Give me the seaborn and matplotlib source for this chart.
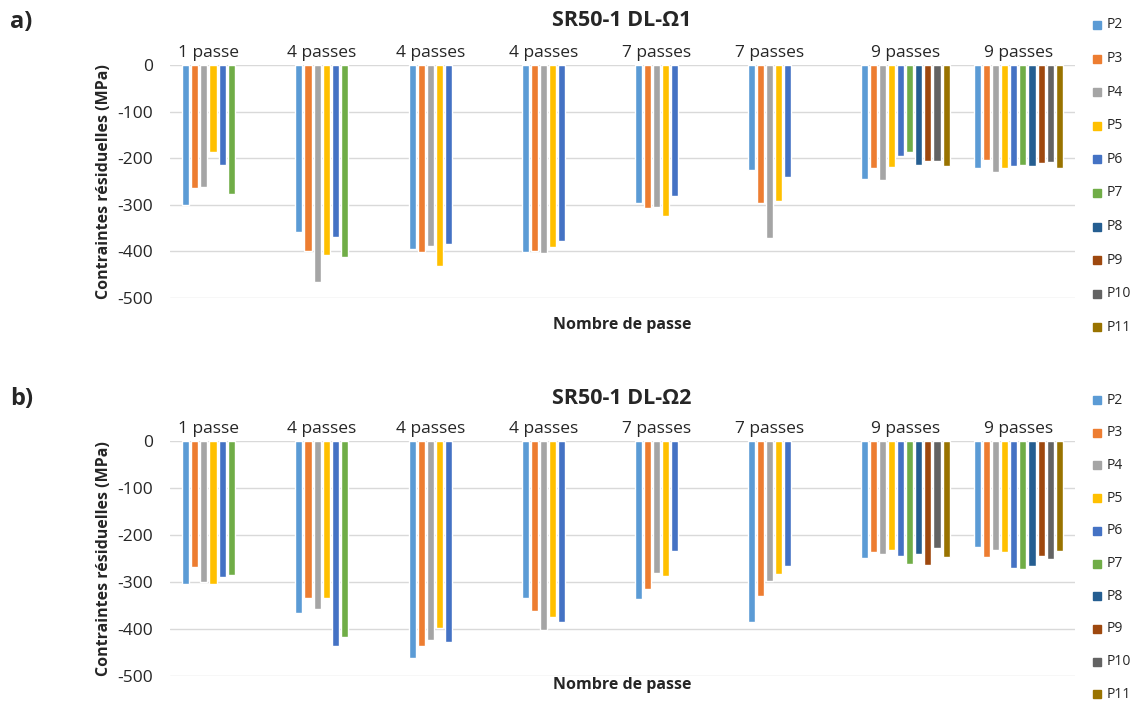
import numpy as np
import pandas as pd
import matplotlib
matplotlib.use('Agg')
import matplotlib.pyplot as plt
import seaborn as sns

# Category labels (8 specimens) and series names
groups = ['1 passe', '4 passes', '4 passes', '4 passes', '7 passes', '7 passes', '9 passes', '9 passes']
series = ['P2', 'P3', 'P4', 'P5', 'P6', 'P7', 'P8', 'P9', 'P10', 'P11']
colors = ['#5B9BD5', '#ED7D31', '#A5A5A5', '#FFC000', '#4472C4',
          '#70AD47', '#255E91', '#9E480E', '#636363', '#997300']

nan = np.nan
# a) SR50-1 DL-Omega1 : one row per group, P2..P11
vals_a = [
    [-301, -264, -261, -187, -214, -277, nan, nan, nan, nan],
    [-359, -399, -466, -407, -369, -412, nan, nan, nan, nan],
    [-394, -402, -389, -432, -384, nan, nan, nan, nan, nan],
    [-402, -399, -404, -390, -377, nan, nan, nan, nan, nan],
    [-297, -307, -304, -324, -282, nan, nan, nan, nan, nan],
    [-226, -296, -371, -292, -241, nan, nan, nan, nan, nan],
    [-244, -222, -247, -219, -196, -186, -214, -205, -206, -216],
    [-222, -204, -229, -221, -216, -214, -216, -211, -209, -221],
]
# b) SR50-1 DL-Omega2
vals_b = [
    [-305, -269, -300, -304, -290, -285, nan, nan, nan, nan],
    [-365, -334, -357, -334, -437, -418, nan, nan, nan, nan],
    [-462, -436, -424, -398, -427, nan, nan, nan, nan, nan],
    [-334, -362, -403, -375, -386, nan, nan, nan, nan, nan],
    [-337, -314, -281, -288, -235, nan, nan, nan, nan, nan],
    [-385, -330, -297, -282, -265, nan, nan, nan, nan, nan],
    [-248, -236, -241, -231, -245, -261, -241, -263, -228, -246],
    [-225, -246, -232, -236, -270, -273, -265, -245, -251, -235],
]

titles = ['SR50-1 DL-\u03a91', 'SR50-1 DL-\u03a92']
panel_tags = ['a)', 'b)']
yticks = [0, -100, -200, -300, -400, -500]


def to_long(vals):
    rows = []
    for g, row in enumerate(vals):
        for s, v in zip(series, row):
            rows.append({'grp': g, 'serie': s, 'val': v})
    return pd.DataFrame(rows)


sns.set_theme(style='white')
plt.rcParams['font.family'] = ['Open Sans', 'DejaVu Sans']

fig = plt.figure(figsize=(11.46, 7.04), dpi=100)
W, H = 1146, 704

# pixel boxes: (left, top, right, bottom)
boxes = [(170, 65, 1075, 298), (170, 441, 1075, 676)]
title_y = [21, 398]
legend_top = [25, 400]
legend_step = [33.6, 32.7]
xlabel_pad = [14, 1]

slot = 0.8 / len(series)
for i, vals in enumerate([vals_a, vals_b]):
    l, t, r, b = boxes[i]
    ax = fig.add_axes([l / W, 1 - b / H, (r - l) / W, (b - t) / H])
    df = to_long(vals)
    sns.barplot(data=df, x='grp', y='val', hue='serie', hue_order=series,
                palette=colors, width=0.8, gap=0.22, ax=ax, legend=False,
                errorbar=None, saturation=1)
    ax.set_xlim(-0.5, 7.5)
    ax.set_ylim(-500, 0)
    ax.set_yticks(yticks)
    ax.set_yticklabels([str(v) for v in yticks], fontsize=12.5)
    ax.yaxis.grid(True, color='#D9D9D9', linewidth=1)
    ax.set_axisbelow(True)
    for sp in ax.spines.values():
        sp.set_visible(False)

    # group labels on top, centred over the bars that are present
    ax.xaxis.tick_top()
    tick_pos = []
    for g, row in enumerate(vals):
        ks = [k for k, v in enumerate(row) if not np.isnan(v)]
        tick_pos.append(g - 0.4 + slot * (np.mean(ks) + 0.5))
    ax.set_xticks(tick_pos)
    ax.set_xticklabels(groups, fontsize=12.5)
    ax.tick_params(axis='x', length=0, pad=3)
    ax.tick_params(axis='y', length=0, pad=12)
    ax.xaxis.set_label_position('bottom')
    ax.set_xlabel('Nombre de passe', fontsize=11.5, fontweight='bold',
                  labelpad=xlabel_pad[i])
    ax.set_ylabel('Contraintes r\u00e9siduelles (MPa)', fontsize=11.5,
                  fontweight='bold', labelpad=4)

    fig.text(622 / W, 1 - title_y[i] / H, titles[i], ha='center', va='center',
             fontsize=15.5, fontweight='bold')
    fig.text(10 / W, 1 - (title_y[i] + 1) / H, panel_tags[i], ha='left', va='center',
             fontsize=17, fontweight='bold')

    # legend as a column on the right
    for k, (s, c) in enumerate(zip(series, colors)):
        y = legend_top[i] + k * legend_step[i]
        fig.patches.append(plt.Rectangle((1093 / W, 1 - (y + 4) / H), 8 / W, 8 / H,
                                         transform=fig.transFigure, color=c,
                                         figure=fig))
        fig.text(1107 / W, 1 - y / H, s, ha='left', va='center', fontsize=10)

fig.savefig('out.png', dpi=100)
